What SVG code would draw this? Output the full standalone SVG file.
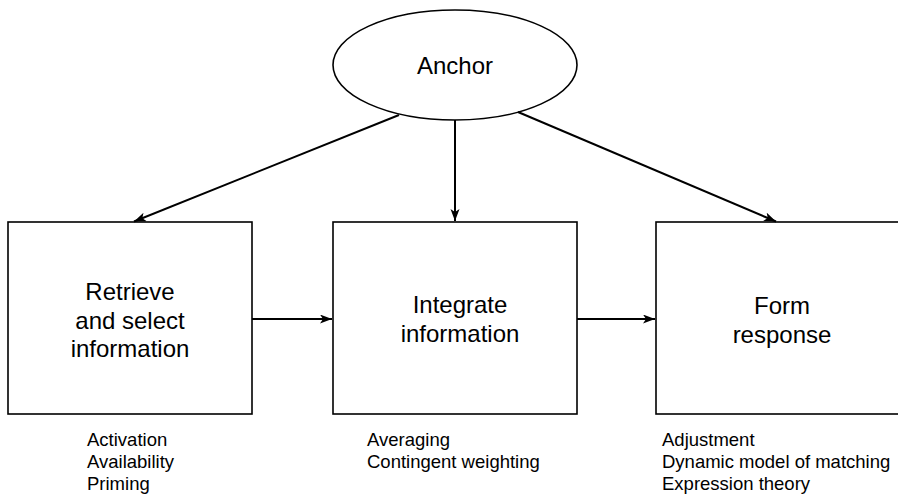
<svg xmlns="http://www.w3.org/2000/svg" width="898" height="495" viewBox="0 0 898 495">
<style>
.shape{fill:#fff;stroke:#000;stroke-width:1.6}
.conn{stroke:#000;stroke-width:2;fill:none}
.t{font-family:"Liberation Sans",Arial,sans-serif;font-size:24px;fill:#000;text-anchor:middle}
.s{font-family:"Liberation Sans",Arial,sans-serif;font-size:18.5px;fill:#000}
</style>
<defs>
<marker id="ah" markerUnits="userSpaceOnUse" markerWidth="14" markerHeight="10" refX="12" refY="4.5" orient="auto">
<path d="M0,0 L12,4.5 L0,9 L3,4.5 z" fill="#000"/>
</marker>
</defs>
<g id="anchor">
<ellipse class="shape" cx="455" cy="65" rx="122" ry="55"/>
<text class="t" x="455" y="74">Anchor</text>
</g>
<g id="retrieve">
<rect class="shape" x="8" y="222" width="244" height="192"/>
<text class="t" x="130" y="300">Retrieve</text>
<text class="t" x="130" y="329">and select</text>
<text class="t" x="130" y="357">information</text>
<text class="s" x="87" y="446">Activation</text>
<text class="s" x="87" y="468">Availability</text>
<text class="s" x="87" y="490">Priming</text>
</g>
<g id="integrate">
<rect class="shape" x="333" y="222" width="244" height="192"/>
<text class="t" x="460" y="313">Integrate</text>
<text class="t" x="460" y="342">information</text>
<text class="s" x="367" y="446">Averaging</text>
<text class="s" x="367" y="468">Contingent weighting</text>
</g>
<g id="form">
<rect class="shape" x="656" y="222" width="260" height="192"/>
<text class="t" x="782" y="314">Form</text>
<text class="t" x="782" y="343">response</text>
<text class="s" x="662" y="446">Adjustment</text>
<text class="s" x="662" y="468">Dynamic model of matching</text>
<text class="s" x="662" y="490">Expression theory</text>
</g>
<g id="connectors">
<line class="conn" x1="399" y1="115" x2="134" y2="221.5" marker-end="url(#ah)"/>
<line class="conn" x1="455" y1="120" x2="455" y2="221" marker-end="url(#ah)"/>
<line class="conn" x1="518" y1="112" x2="776" y2="221.5" marker-end="url(#ah)"/>
<line class="conn" x1="252" y1="319" x2="332" y2="319" marker-end="url(#ah)"/>
<line class="conn" x1="577" y1="319" x2="655" y2="319" marker-end="url(#ah)"/>
</g>
</svg>
